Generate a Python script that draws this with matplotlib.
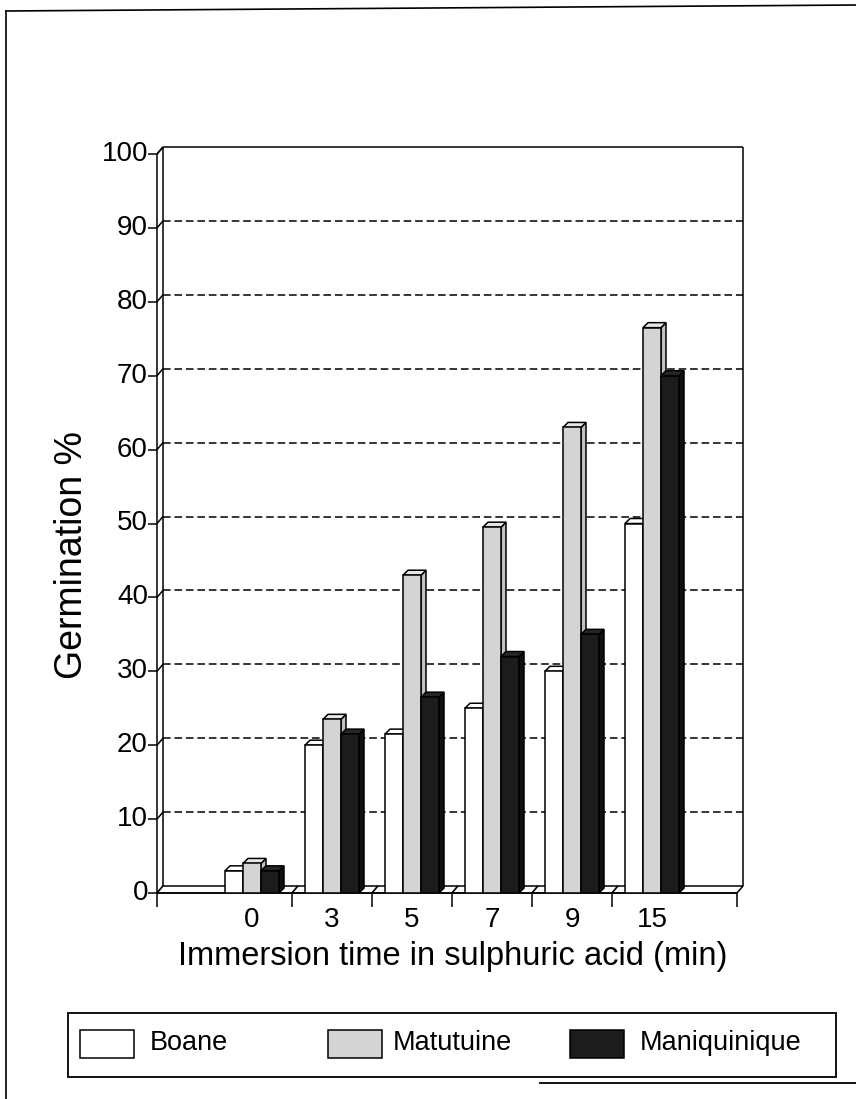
import matplotlib
matplotlib.use("Agg")
import matplotlib.pyplot as plt
from matplotlib.patches import Polygon, Rectangle
from matplotlib.lines import Line2D

plt.rcParams['font.family'] = ['Liberation Sans', 'DejaVu Sans']

# Germination (%) after immersion in sulphuric acid
times = ["0", "3", "5", "7", "9", "15"]
boane = [3, 20, 21.5, 25, 30, 50]
matutuine = [4, 23.5, 43, 49.5, 63, 76.5]
maniquinique = [3, 21.5, 26.5, 32, 35, 70]
series_names = ["Boane", "Matutuine", "Maniquinique"]
y_ticks = [0, 10, 20, 30, 40, 50, 60, 70, 80, 90, 100]

series = [boane, matutuine, maniquinique]
face = ["white", "#d4d4d4", "#1c1c1c"]
top = ["white", "#e6e6e6", "#262626"]
side = ["white", "#c0c0c0", "#111111"]

W, H = 856, 1099
fig = plt.figure(figsize=(W / 100, H / 100), dpi=100)

# plot area in pixels
L, R, T, B = 157, 737, 154, 893
ax = fig.add_axes([L / W, 1 - B / H, (R - L) / W, (B - T) / H])
x0, x1 = -1.1875, 6.0625
ax.set_xlim(x0, x1)
ax.set_ylim(0, 100)
ax.axis("off")

ux = (x1 - x0) / (R - L)      # data units per pixel (x)
uy = 100.0 / (B - T)          # data units per pixel (y)

wdx, wdy = 6 * ux, 7 * uy     # wall / floor depth
bdx, bdy = 5 * ux, 5 * uy     # bar depth
lw = 1.1

def line(xs, ys, **kw):
    kw.setdefault("color", "black")
    kw.setdefault("lw", lw)
    ax.add_line(Line2D(xs, ys, clip_on=False, solid_capstyle="butt", **kw))

# back wall: gridlines, top edge, right edge
for v in y_ticks[1:-1]:
    line([x0 + wdx, x1 + wdx], [v + wdy, v + wdy], ls=(0, (5, 2.5)), zorder=1)
line([x0 + wdx, x1 + wdx], [100 + wdy, 100 + wdy], zorder=1)
line([x1 + wdx, x1 + wdx], [wdy, 100 + wdy], zorder=1)

# left wall (double line)
line([x0, x0], [0, 100], zorder=2)
line([x0 + wdx, x0 + wdx], [wdy, 100 + wdy], zorder=2)
line([x0, x0 + wdx], [100, 100 + wdy], zorder=2)

# y ticks and labels
for v in y_ticks:
    line([x0 - 9 * ux, x0], [v, v], zorder=2)
    line([x0, x0 + wdx], [v, v + wdy], zorder=2)
    ax.text(x0 - 9 * ux, v, str(v), ha="right", va="center", fontsize=20,
            clip_on=False)

# floor, split into category bands
bounds = [x0, 0.5, 1.5, 2.5, 3.5, 4.5, x1]
for a, b in zip(bounds[:-1], bounds[1:]):
    ax.add_patch(Polygon([(a, 0), (b, 0), (b + wdx, wdy), (a + wdx, wdy)],
                         closed=True, fc="white", ec="black", lw=lw,
                         zorder=3, clip_on=False))
line([x0, x1], [0, 0], zorder=3)
for xb in bounds:
    line([xb, xb], [0, -14 * uy], zorder=3)

# bars
bw = 0.225
offsets = [-bw, 0.0, bw]
z = 4
for i in range(len(times)):
    for s, vals in enumerate(series):
        v = vals[i]
        xl = i + offsets[s] - bw / 2
        xr = xl + bw
        ax.add_patch(Polygon([(xr, 0), (xr, v), (xr + bdx, v + bdy), (xr + bdx, bdy)],
                             closed=True, fc=side[s], ec="black", lw=lw, zorder=z))
        ax.add_patch(Polygon([(xl, v), (xr, v), (xr + bdx, v + bdy), (xl + bdx, v + bdy)],
                             closed=True, fc=top[s], ec="black", lw=lw, zorder=z))
        ax.add_patch(Rectangle((xl, 0), bw, v, fc=face[s], ec="black", lw=lw,
                               zorder=z + 0.5))
        z += 1

# category labels
for i, t in enumerate(times):
    ax.text(i, -14 * uy, t, ha="center", va="top", fontsize=20, clip_on=False)

def fx(p):
    return p / W

def fy(p):
    return 1 - p / H

fig.text(fx(453), fy(956), "Immersion time in sulphuric acid (min)",
         ha="center", va="center", fontsize=23.5)
fig.text(fx(72), fy(555), "Germination %", ha="center", va="center",
         rotation=90, fontsize=27)

# legend box
fig.add_artist(Rectangle((fx(68), fy(1077)), fx(836) - fx(68), fy(1013) - fy(1077),
                         transform=fig.transFigure, fc="white", ec="black", lw=1.3))
swatch_x = [80, 328, 570]
label_x = [150, 393, 640]
for s, name in enumerate(series_names):
    fig.add_artist(Rectangle((fx(swatch_x[s]), fy(1058)), fx(54), fy(1030) - fy(1058),
                             transform=fig.transFigure, fc=face[s], ec="black", lw=1.1))
    fig.text(fx(label_x[s]), fy(1043), name, ha="left", va="center", fontsize=19.5)

# page frame
fig.add_artist(Line2D([fx(6), fx(856)], [fy(11), fy(5)], transform=fig.transFigure,
                      color="black", lw=1.2))
fig.add_artist(Line2D([fx(6), fx(6)], [fy(11), fy(1099)], transform=fig.transFigure,
                      color="black", lw=1.2))
fig.add_artist(Line2D([fx(540), fx(856)], [fy(1083), fy(1083)], transform=fig.transFigure,
                      color="black", lw=1.3))

fig.savefig("out.png", dpi=100, facecolor="white")
